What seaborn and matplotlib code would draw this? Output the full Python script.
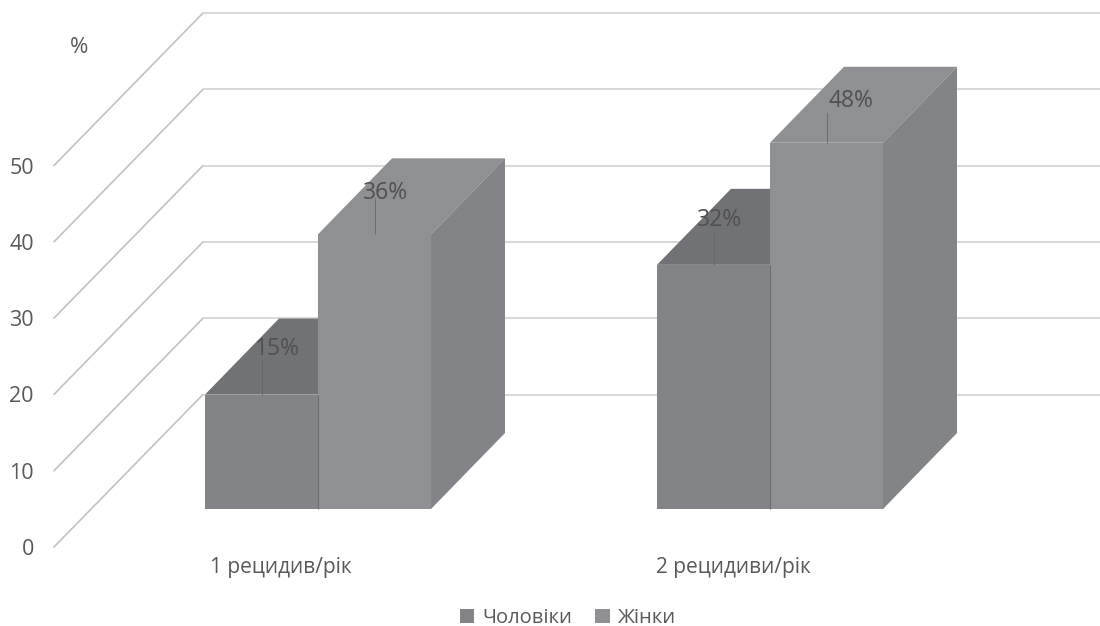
import pandas as pd
import matplotlib.pyplot as plt
import seaborn as sns

categories = ["1 рецидив/рік", "2 рецидиви/рік"]
men_values = [15, 32]
women_values = [36, 48]
series_names = ["Чоловіки", "Жінки"]
y_ticks = [0, 10, 20, 30, 40, 50]

df = pd.DataFrame({
    "category": categories * 2,
    "sex": [series_names[0]] * 2 + [series_names[1]] * 2,
    "value": men_values + women_values,
})

sns.set_theme(style="white")
plt.rcParams['font.family'] = ['Open Sans', 'DejaVu Sans']

W, H = 1100, 626
TEXT = "#595959"
GRID = "#d2d2d2"
GRID_SIDE = "#c2c2c2"
FRONT = ["#838487", "#8f9093"]
TOP = ["#717275", "#8f9094"]
SIDE = ["#838487", "#838487"]

# scale of the picture: one category = 452 px, ten percent = 76.3 px
PX_X = 1 / 452
PX_Y = 1 / 7.63

fig = plt.figure(figsize=(W / 100, H / 100), dpi=100)
ax = fig.add_axes([0, 0, 1, 1])

sns.barplot(
    data=df, x="category", y="value", hue="sex", order=categories,
    hue_order=series_names, palette=FRONT, width=0.5, gap=0,
    linewidth=0, saturation=1, zorder=3, ax=ax,
)

# full figure axes, first category centred at 318 px, base of bars at 509 px
ax.set_xlim(-318 * PX_X, (W - 318) * PX_X)
ax.set_ylim(-(H - 509) * PX_Y, 509 * PX_Y)
ax.set_axis_off()

# walls: slanted line on the left, horizontal one at the back
wall_front_x = (54 - 318) * PX_X
wall_back_x = (203 - 318) * PX_X
wall_end_x = (W - 318) * PX_X
front_dy = -38 * PX_Y
back_dy = 114.5 * PX_Y
for v in y_ticks:
    ax.plot([wall_front_x, wall_back_x], [v + front_dy, v + back_dy],
            color=GRID_SIDE, lw=1.2, zorder=1)
    ax.plot([wall_back_x, wall_end_x], [v + back_dy, v + back_dy],
            color=GRID, lw=1.2, zorder=1)
    ax.text((34 - 318) * PX_X, v - 40.5 * PX_Y, str(v), color=TEXT,
            fontsize=15.5, ha="right", va="center")
ax.text((79 - 318) * PX_X, 50 + (509 - 47 - 382) * PX_Y, "%", color=TEXT,
        fontsize=16, ha="center", va="center")

# depth of the bars
dx = 74 * PX_X
dy = 76 * PX_Y
# where each percent label sits, px from the middle of the bar's top edge
label_offsets = [[(16, 46), (6, 45)], [(11, 41), (24, 42)]]
leader_tops = [[36, 33], [36, 30]]

for i, container in enumerate(ax.containers):
    for j, bar in enumerate(container):
        x0 = bar.get_x()
        x1 = x0 + bar.get_width()
        h = bar.get_height()
        ax.fill([x0, x0 + dx, x1 + dx, x1], [h, h + dy, h + dy, h],
                color=TOP[i], lw=0, zorder=2 + i * 2)
        ax.fill([x1, x1 + dx, x1 + dx, x1], [0, dy, h + dy, h],
                color=SIDE[i], lw=0, zorder=2 + i * 2)
        bar.set_zorder(3 + i * 2)

        mid = x0 + bar.get_width() / 2
        ox, oy = label_offsets[i][j]
        ax.plot([mid, mid], [h, h + leader_tops[i][j] * PX_Y],
                color="#66676a", lw=0.6, zorder=8)
        ax.text(mid + ox * PX_X, h + oy * PX_Y, f"{int(h)}%", color="#505050",
                fontsize=16.5, ha="center", va="center", zorder=9)
        if i == 0:
            # dark seam between the two bars
            ax.plot([x1, x1], [0, h], color="#6c6d70", lw=0.8, zorder=8,
                    solid_capstyle="butt")

for pos, name in enumerate(categories):
    ax.text(pos - 37 * PX_X, -58 * PX_Y, name, color=TEXT,
            fontsize=15, ha="center", va="center")

handles, labels = ax.get_legend_handles_labels()
ax.legend(handles, labels, loc="center", bbox_to_anchor=(568 / W, 1 - 618 / H),
          ncols=2, frameon=False, fontsize=14.5, labelcolor=TEXT,
          handlelength=0.72, handleheight=0.72, handletextpad=0.4, columnspacing=1.15)

plt.savefig("out.png", dpi=100)
